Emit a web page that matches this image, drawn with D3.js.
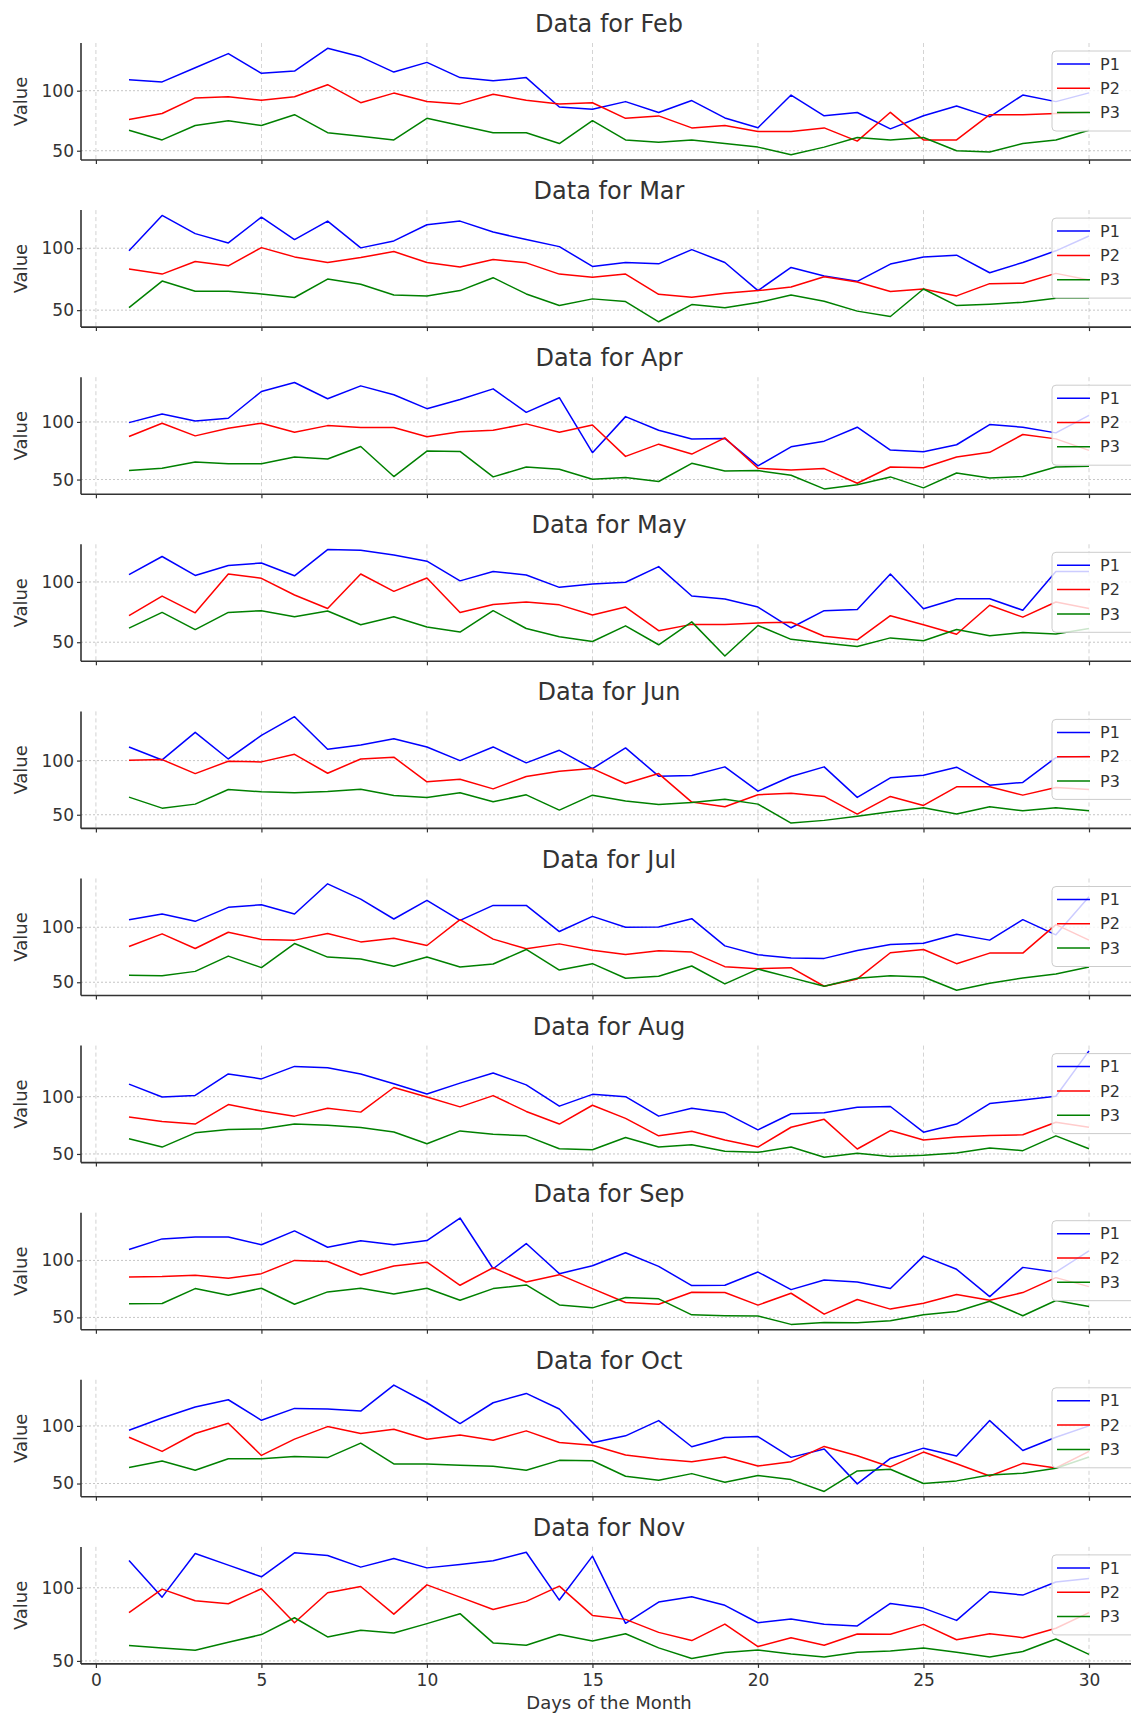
<!DOCTYPE html>
<html>
<head>
<meta charset="utf-8">
<script src="https://cdn.jsdelivr.net/npm/d3@7"></script>
<style>
  body { margin: 0; background: #fff; }
  svg { display: block; font-family: "DejaVu Sans", sans-serif; }
</style>
</head>
<body>
<div id="chart"></div>
<script>
// days on the x axis, one panel per month
const days = [1, 2, 3, 4, 5, 6, 7, 8, 9, 10, 11, 12, 13, 14, 15, 16, 17, 18, 19, 20, 21, 22, 23, 24, 25, 26, 27, 28, 29, 30];
const months = ["Feb", "Mar", "Apr", "May", "Jun", "Jul", "Aug", "Sep", "Oct", "Nov"];
const seriesNames = ["P1", "P2", "P3"];
const xTicks = [0, 5, 10, 15, 20, 25, 30];
const yTicks = [50, 100];

const febP1 = [109.1, 107.3, 119.1, 130.9, 114.5, 116.4, 135.3, 128.2, 115.5, 123.6, 110.9, 108.2, 110.9, 86.4, 84.5, 90.9, 81.8, 91.8, 77.3, 69.1, 96.4, 79.1, 81.8, 68.2, 79.1, 87.3, 78.2, 96.4, 90.9, 98.2];
const febP2 = [76, 81, 94, 95, 92, 95, 105, 90, 98, 91, 89, 97, 92, 89, 90, 77, 79, 69, 71, 66, 66, 69, 58, 82, 59, 59, 80, 80, 81, 82];
const febP3 = [67, 59, 71, 75, 71, 80, 65, 62, 59, 77, 71, 65, 65, 56, 75, 59, 57, 59, 56, 53, 46.7, 53, 61, 59, 61, 50, 49, 56, 59, 67];

const marP1 = [97.9, 126.5, 111.8, 104.3, 125.1, 107, 121.9, 100.3, 105.9, 119, 121.9, 113.1, 107, 101.3, 85.3, 88.5, 87.4, 98.9, 88.5, 65.8, 84.5, 77.5, 73.3, 87.2, 93, 94.4, 80.2, 88.5, 97.9, 109.9];
const marP2 = [83.2, 79.1, 89.3, 85.8, 100.5, 93, 88.5, 92.5, 97.3, 88.5, 84.8, 90.9, 88.2, 79.1, 76.5, 79.1, 62.8, 60.4, 63.6, 65.8, 68.7, 77, 72.7, 65, 67.1, 61.5, 71.4, 71.7, 79.7, 74.3];
const marP3 = [52, 73.5, 65.2, 65.2, 63.1, 60.2, 75.1, 70.9, 62.3, 61.5, 65.8, 76.2, 63.1, 53.7, 59.1, 56.9, 40.6, 54.5, 51.9, 56.1, 62.3, 57.2, 49.2, 44.9, 67.1, 53.7, 54.8, 56.4, 59.6, 59.6];

const aprP1 = [99.4, 106.9, 100.9, 103.2, 126.4, 134.2, 120.1, 131.3, 123.6, 111.5, 119.5, 128.7, 108.3, 121, 73.3, 104.6, 92.8, 85.1, 85.6, 61.8, 78.4, 83.3, 95.4, 75.6, 74.1, 80.2, 97.7, 95.4, 90.5, 105.7];
const aprP2 = [87.4, 98.9, 87.9, 94.5, 98.9, 91.1, 96.8, 95.1, 95.1, 87.1, 91.4, 92.8, 98.3, 91.1, 97.4, 70.1, 80.7, 72.1, 86.2, 59.8, 58.3, 59.5, 46.8, 60.9, 60.3, 69.5, 73.6, 89.1, 85.3, 75.3];
const aprP3 = [57.8, 59.8, 65.2, 63.8, 63.8, 69.5, 67.8, 78.7, 52.6, 74.7, 74.4, 52.3, 60.9, 58.9, 50.3, 51.7, 48.3, 64.1, 57.5, 57.8, 53.7, 41.9, 45.4, 52.3, 42.8, 55.7, 51.4, 52.6, 60.9, 61.5];

const mayP1 = [106, 121.1, 105.4, 113.6, 115.7, 105.1, 126.8, 126.2, 122.3, 117.2, 100.9, 108.7, 105.7, 95.5, 98.2, 99.7, 112.7, 88.3, 85.8, 79.2, 62, 76.2, 77.1, 106.6, 77.7, 86.1, 86.1, 76.5, 108.7, 108.7];
const mayP2 = [72, 88.3, 74.4, 106.6, 103, 89.2, 78, 106.6, 92.2, 103.3, 74.7, 81.3, 83.4, 81, 72.6, 79.2, 59.6, 64.8, 64.8, 66, 66.6, 55, 52, 72, 64.5, 56.6, 80.7, 70.8, 83.4, 78];
const mayP3 = [61.7, 74.7, 60.5, 74.7, 76.2, 71.1, 75.9, 64.5, 71.1, 62.7, 58.4, 76.2, 61.4, 54.5, 50.6, 63.6, 47.9, 66.9, 38.6, 63.9, 52.4, 49.4, 46.4, 53.6, 51.2, 60.5, 55.4, 58.1, 56.9, 61.4];

const junP1 = [112.6, 100.6, 126.1, 101.5, 123.3, 140.5, 110.4, 114.4, 120.2, 112.6, 100, 112.6, 97.9, 109.5, 92.6, 111.7, 85.6, 86.2, 94.2, 71.8, 85.3, 94.2, 66, 84.1, 86.5, 93.9, 77.3, 79.8, 102.8, 104];
const junP2 = [100.3, 100.9, 88, 99.4, 98.8, 105.8, 88.3, 101.5, 103.1, 80.4, 82.8, 73.9, 85.3, 90.2, 92.6, 78.8, 88, 61.7, 57.4, 68.4, 69.9, 66.9, 50.6, 66.9, 58.6, 75.8, 75.8, 68.1, 75.2, 73.3];
const junP3 = [66.3, 56.1, 59.8, 73.3, 71.2, 70.3, 71.5, 73.6, 67.8, 66, 70.3, 62, 68.4, 54.3, 68.1, 62.6, 59.5, 61.4, 64.4, 59.8, 42.3, 44.8, 48.5, 52.8, 56.4, 50.6, 57.4, 53.7, 56.4, 53.7];

const julP1 = [106.9, 112, 105.4, 118.1, 120.5, 112, 139.5, 125.6, 107.5, 124.4, 106.3, 119.9, 119.9, 96.1, 109.9, 100, 100.3, 107.8, 83.1, 75, 72, 71.7, 78.9, 84.3, 85.5, 93.7, 88.3, 106.9, 93.1, 127.7];
const julP2 = [82.5, 94, 80.7, 95.5, 88.9, 88.3, 94.3, 86.7, 90.1, 83.4, 106.9, 89.2, 80.4, 84.9, 79.2, 75.3, 78.6, 77.4, 64.2, 62.3, 63.3, 46.4, 53, 76.8, 79.8, 66.9, 76.5, 76.5, 102.4, 88.3];
const julP3 = [56.3, 56, 59.9, 73.8, 63.3, 85.2, 72.9, 71.1, 64.5, 72.9, 63.9, 66.6, 79.8, 61.1, 66.9, 53.6, 55.4, 64.8, 48.5, 62, 54.2, 46.4, 53.6, 56, 54.8, 42.8, 49.1, 53.9, 57.5, 63.9];

const augP1 = [110.9, 99.7, 101.1, 119.8, 115.5, 126.4, 125.3, 119.8, 111.2, 102.3, 111.8, 120.7, 110.3, 91.7, 102, 100, 83, 89.9, 85.9, 71, 85.1, 85.9, 90.8, 91.4, 69, 76.1, 94, 97.1, 100.3, 139.9];
const augP2 = [82.2, 78.4, 76.1, 93.1, 87.4, 83, 89.9, 86.5, 108, 99.7, 91.1, 100.9, 87.1, 76.1, 92.5, 81, 65.8, 69.8, 62.1, 56, 73.3, 80.2, 54.3, 70.4, 62.1, 64.9, 66.1, 66.7, 77.6, 73.3];
const augP3 = [63.2, 56, 68.4, 71.3, 71.8, 76.1, 75, 73, 69.2, 58.9, 70.1, 67.2, 65.8, 54.6, 53.7, 64.4, 56, 58, 52.3, 51.4, 56, 47.1, 50.6, 47.7, 48.8, 50.9, 55.2, 52.9, 65.8, 54.6];

const sepP1 = [109.6, 118.9, 120.6, 120.6, 113.7, 125.9, 111.6, 117.2, 113.7, 117.4, 137.2, 92.7, 114.8, 88.4, 95.3, 106.7, 94.8, 77.9, 78.2, 89.8, 74.4, 82.8, 81.1, 75.3, 103.8, 92.2, 68.3, 93.9, 89.8, 108.4];
const sepP2 = [85.5, 85.8, 86.9, 84.3, 88.4, 100, 99.1, 87.2, 95.1, 98.5, 78.2, 93.6, 81.1, 87.5, 75.3, 63.1, 61.6, 72.1, 71.8, 60.8, 71.2, 52.9, 65.7, 57.3, 62.5, 70.1, 65.1, 71.8, 84.9, 77];
const sepP3 = [61.9, 62.2, 75.3, 69.5, 75.6, 61.6, 72.4, 75.6, 70.6, 75.6, 65.1, 75.3, 78.5, 61, 58.4, 67.4, 66.3, 52.3, 51.5, 51.2, 43.9, 45.6, 45.3, 47.1, 52.3, 55.2, 64.2, 51.5, 64.8, 59.6];

const octP1 = [96.3, 106.9, 116.4, 122.7, 104.9, 115.2, 114.7, 112.9, 135.4, 120.1, 102, 120.1, 128.2, 114.7, 85.3, 91.4, 104.6, 81.9, 89.9, 90.8, 72.7, 79.9, 49.7, 71.8, 80.7, 73.8, 104.6, 78.7, 90.2, 100];
const octP2 = [90.2, 77.9, 93.4, 102.3, 74.4, 88.5, 99.4, 93.4, 97.1, 88.5, 92.2, 87.6, 95.7, 85.6, 83.3, 74.7, 71.3, 69, 73, 65.2, 69, 82.2, 74.1, 64.4, 77.3, 67.2, 56.6, 67.5, 63.5, 77.9];
const octP3 = [64, 69.5, 61.5, 71.5, 71.5, 73.5, 72.5, 85.1, 67, 67, 65.8, 64.9, 61.5, 70.1, 69.8, 56.3, 52.9, 58.6, 51.1, 56.9, 53.4, 43.1, 60.9, 62.4, 50, 52.3, 57.5, 58.9, 63.2, 73];

const novP1 = [118.6, 93.6, 123.4, 115.5, 107.5, 123.9, 122, 114.1, 120, 113.6, 115.9, 118.4, 124.3, 91.6, 121.6, 75.7, 90.2, 93.9, 88, 76.1, 78.6, 75, 73.9, 89.3, 86.1, 77.7, 97.3, 95, 103.9, 106.4];
const novP2 = [83, 99.1, 91.1, 89.1, 99.3, 76.1, 96.6, 100.9, 82, 102, 93.6, 85.2, 90.7, 101.1, 81.1, 78.4, 69.5, 63.9, 75.2, 59.8, 65.9, 60.7, 68.4, 68.2, 75, 64.5, 68.6, 65.9, 72.3, 83];
const novP3 = [60.5, 58.9, 57.3, 62.7, 68, 79.5, 66.4, 70.9, 69.1, 75.5, 82.3, 62.3, 60.7, 68, 63.6, 68.6, 58.9, 51.6, 55.7, 57.5, 54.8, 52.7, 55.9, 56.8, 58.9, 55.9, 52.7, 56.4, 65, 54.5];

const p1 = [febP1, marP1, aprP1, mayP1, junP1, julP1, augP1, sepP1, octP1, novP1];
const p2 = [febP2, marP2, aprP2, mayP2, junP2, julP2, augP2, sepP2, octP2, novP2];
const p3 = [febP3, marP3, aprP3, mayP3, junP3, julP3, augP3, sepP3, octP3, novP3];

const colors = { P1: "#0000ff", P2: "#ff0000", P3: "#008000" };

const width = 1131, height = 1713;
const pitch = 167.1, plotTop = 43, plotH = 117;
const textColor = "#333";

const svg = d3.select("#chart").append("svg")
  .attr("width", width)
  .attr("height", height);

// shared x scale, matplotlib style 5% margins around days 1..30
const x = d3.scaleLinear().domain([-0.45, 31.45]).range([81, 1137]);

months.forEach((month, i) => {
  const series = [p1[i], p2[i], p3[i]];
  const all = series.flat();
  const lo = d3.min(all), hi = d3.max(all);
  const pad = (hi - lo) * 0.05;

  const top = i * pitch + plotTop;
  const y = d3.scaleLinear()
    .domain([lo - pad, hi + pad])
    .range([top + plotH, top]);

  const g = svg.append("g").attr("class", "panel");

  // grid
  g.selectAll("line.vgrid")
    .data(xTicks)
    .enter()
    .append("line")
    .attr("class", "vgrid")
    .attr("x1", (d) => x(d)).attr("x2", (d) => x(d))
    .attr("y1", top).attr("y2", top + plotH)
    .attr("stroke", "#b0b0b0")
    .attr("stroke-width", 0.8)
    .attr("stroke-dasharray", "4,3")
    .attr("opacity", 0.7);

  g.selectAll("line.hgrid")
    .data(yTicks)
    .enter()
    .append("line")
    .attr("class", "hgrid")
    .attr("x1", x.range()[0]).attr("x2", x.range()[1])
    .attr("y1", (d) => y(d)).attr("y2", (d) => y(d))
    .attr("stroke", "#b0b0b0")
    .attr("stroke-width", 0.9)
    .attr("stroke-dasharray", "2,2")
    .attr("opacity", 0.8);

  // lines
  const line = d3.line()
    .x((d, j) => x(days[j]))
    .y((d) => y(d));

  series.forEach((vals, k) => {
    g.append("path")
      .datum(vals)
      .attr("fill", "none")
      .attr("stroke", colors[seriesNames[k]])
      .attr("stroke-width", 1.5)
      .attr("stroke-linejoin", "round")
      .attr("d", line);
  });

  // axes
  const yAxis = d3.axisLeft(y).tickValues(yTicks).tickSize(4).tickPadding(3);
  const yg = g.append("g")
    .attr("transform", `translate(${x.range()[0]},0)`)
    .call(yAxis);
  yg.select(".domain").remove();
  yg.selectAll(".tick line").attr("stroke", textColor).attr("stroke-width", 1.2);
  yg.selectAll(".tick text")
    .attr("fill", textColor)
    .style("font-size", "17px")
    .style("font-family", "DejaVu Sans, sans-serif");

  const xAxis = d3.axisBottom(x).tickValues(xTicks).tickSize(4).tickPadding(6);
  const xg = g.append("g")
    .attr("transform", `translate(0,${top + plotH})`)
    .call(xAxis);
  xg.select(".domain").remove();
  xg.selectAll(".tick line").attr("stroke", textColor).attr("stroke-width", 1.2);
  xg.selectAll(".tick text")
    .attr("fill", textColor)
    .style("font-size", "17px")
    .style("font-family", "DejaVu Sans, sans-serif")
    .style("display", i === months.length - 1 ? null : "none");

  // left and bottom spines
  g.append("line")
    .attr("x1", x.range()[0]).attr("x2", x.range()[0])
    .attr("y1", top).attr("y2", top + plotH)
    .attr("stroke", textColor).attr("stroke-width", 1.6);
  g.append("line")
    .attr("x1", x.range()[0]).attr("x2", x.range()[1])
    .attr("y1", top + plotH).attr("y2", top + plotH)
    .attr("stroke", textColor).attr("stroke-width", 1.6);

  // title and y label
  g.append("text")
    .attr("x", (x.range()[0] + x.range()[1]) / 2)
    .attr("y", i * pitch + 32)
    .attr("text-anchor", "middle")
    .attr("fill", textColor)
    .style("font-size", "24px")
    .text("Data for " + month);

  g.append("text")
    .attr("transform", `translate(27,${top + plotH / 2}) rotate(-90)`)
    .attr("text-anchor", "middle")
    .attr("fill", textColor)
    .style("font-size", "18px")
    .text("Value");

  // legend, upper right
  const lx = 1052, ly = top + 8;
  const leg = g.append("g");
  leg.append("rect")
    .attr("x", lx).attr("y", ly)
    .attr("width", 86).attr("height", 80)
    .attr("rx", 4)
    .attr("fill", "#fff").attr("fill-opacity", 0.8)
    .attr("stroke", "#cccccc");
  seriesNames.forEach((name, k) => {
    const ry = ly + 13 + k * 24.3;
    leg.append("line")
      .attr("x1", lx + 5).attr("x2", lx + 38)
      .attr("y1", ry).attr("y2", ry)
      .attr("stroke", colors[name]).attr("stroke-width", 1.5);
    leg.append("text")
      .attr("x", lx + 48).attr("y", ry)
      .attr("dy", "0.35em")
      .attr("fill", textColor)
      .style("font-size", "16px")
      .text(name);
  });
});

svg.append("text")
  .attr("x", (x.range()[0] + x.range()[1]) / 2)
  .attr("y", 1709)
  .attr("text-anchor", "middle")
  .attr("fill", textColor)
  .style("font-size", "18px")
  .text("Days of the Month");
</script>
</body>
</html>
